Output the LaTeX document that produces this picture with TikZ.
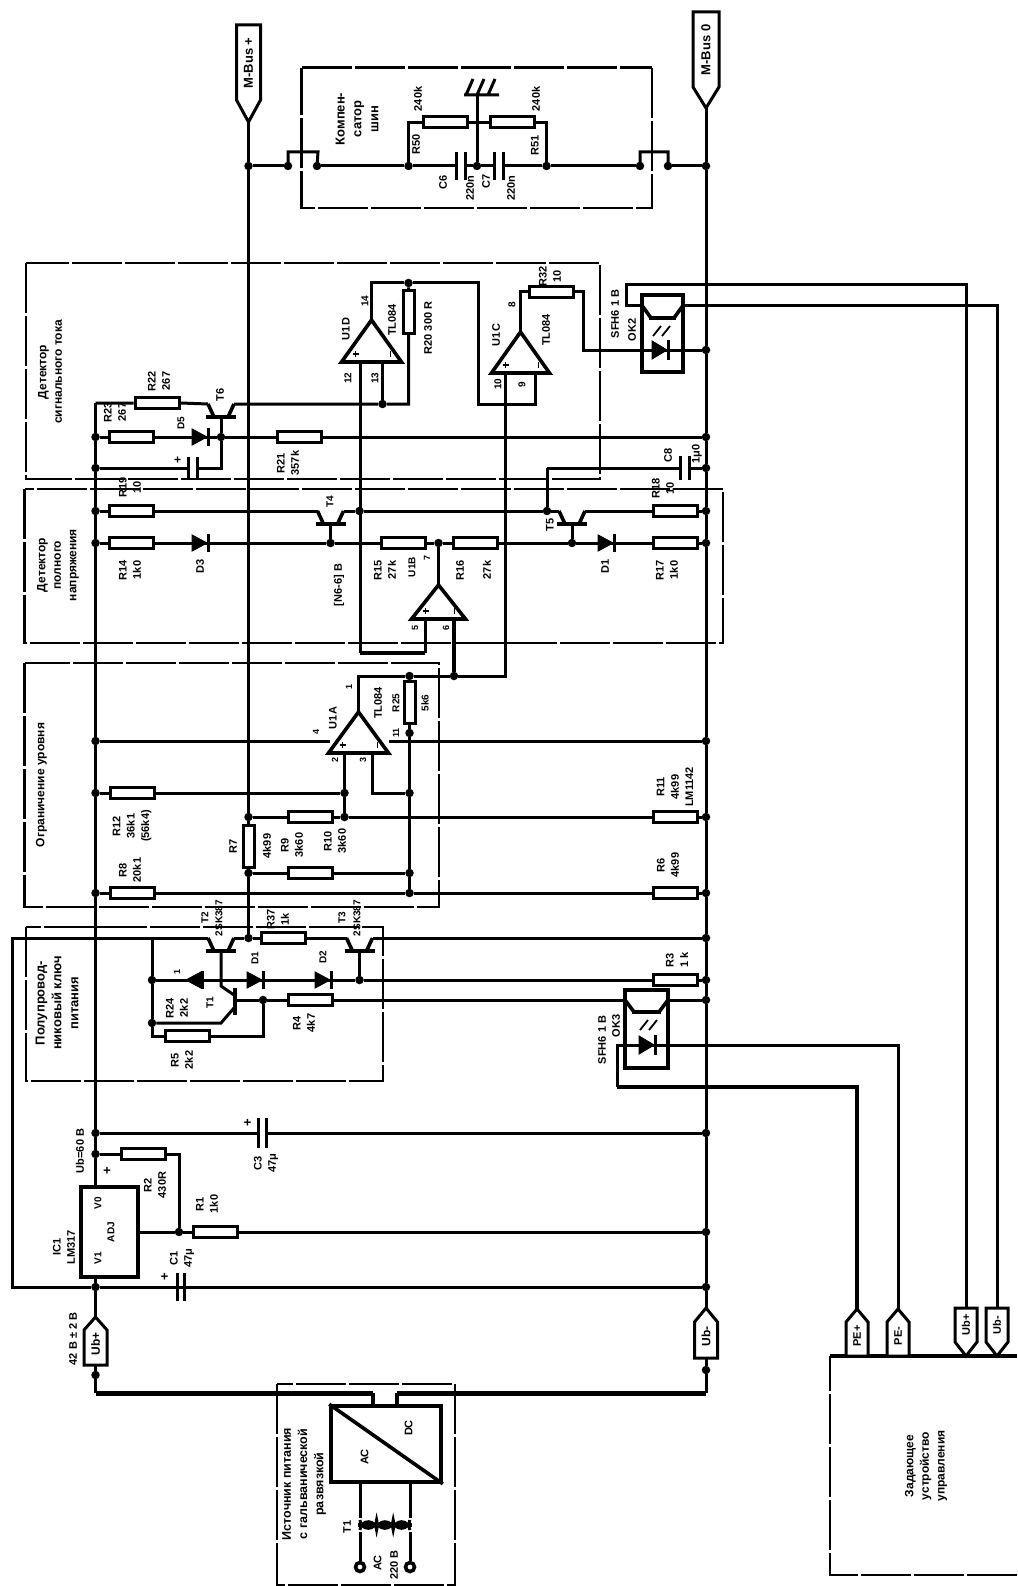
\documentclass[tikz,border=0pt]{standalone}
\usepackage{fontspec}
\setmainfont{Liberation Sans}
\usetikzlibrary{calc}
\tikzset{
  wire/.style={line width=3pt,line join=miter,line cap=butt},
  hvy/.style={line width=3.6pt,line join=miter},
  pwr/.style={line width=5pt,line join=miter},
  frame/.style={line width=2.4pt,dash pattern=on 50pt off 3pt},
  dot/.style={circle,fill=black,inner sep=0pt,minimum size=8.5pt},
  ring/.style={circle,draw=black,fill=white,line width=3.6pt,inner sep=0pt,minimum size=9pt},
  resh/.style={rectangle,draw=black,fill=white,line width=3pt,inner sep=0pt,minimum width=44pt,minimum height=11pt},
  resv/.style={rectangle,draw=black,fill=white,line width=3pt,inner sep=0pt,minimum width=11pt,minimum height=42pt},
  block/.style={rectangle,draw=black,fill=white,line width=3.6pt,inner sep=0pt},
  lbl/.style={rotate=90,inner sep=0pt,align=center,text=black},
  tagshape/.style={draw=black,fill=white,line width=3pt,line join=miter},
  plate/.style={line width=3pt},
  semi/.style={fill=black,draw=black,line width=1pt},
  bar/.style={line width=4.4pt},
}
\newcommand\J[3]{\node[dot] (#1) at (#2,#3) {};}
\newcommand\Rh[3]{\node[resh] (#1) at (#2,#3) {};}
\newcommand\Rv[3]{\node[resv] (#1) at (#2,#3) {};}
\newcommand\Lb[5]{\node[lbl,font=\fontsize{#4}{\dimexpr#4pt*13/10\relax}\selectfont\bfseries] (#1) at (#2,#3) {#5};}
% capacitor on a horizontal wire: name, left plate x, right plate x, y, half length
\newcommand\Cp[5]{\coordinate (#1-l) at (#2,#4);\coordinate (#1-r) at (#3,#4);
  \draw[plate] (#2,#4-#5)--(#2,#4+#5);\draw[plate] (#3,#4-#5)--(#3,#4+#5);}
% diode: name, x, y ; R points right, L points left
\newcommand\DR[3]{\coordinate (#1) at (#2,#3);\fill[semi] (#2-8,#3-8)--(#2+7,#3)--(#2-8,#3+8)--cycle;\draw[plate] (#2+8,#3-9)--(#2+8,#3+9);}
\newcommand\DL[3]{\coordinate (#1) at (#2,#3);\fill[semi] (#2+8,#3-8)--(#2-7,#3)--(#2+8,#3+8)--cycle;\draw[plate] (#2+9,#3-9)--(#2+9,#3+9);}
% transistor: name, base x, bar y
\newcommand\Tr[3]{\coordinate (#1-l) at (#2-13,#3-13);\coordinate (#1-r) at (#2+13,#3-13);\coordinate (#1-b) at (#2,#3);
  \draw[bar] (#2-15,#3)--(#2+15,#3);\draw[hvy] (#2-7,#3)--(#1-l);\draw[hvy] (#2+7,#3)--(#1-r);}
% op amp: name, apex x, apex y, base y, half width
\newcommand\Op[5]{\coordinate (#1-a) at (#2,#3);
  \draw[hvy,fill=white] (#2-#5,#4)--(#2,#3)--(#2+#5,#4)--cycle;
  \draw[line width=1.6pt] (#2-#5+11,#4-8)--(#2-#5+17,#4-8) (#2-#5+14,#4-11)--(#2-#5+14,#4-5) (#2+#5-11,#4-11)--(#2+#5-11,#4-5);}
% tags: name, x, flat end y, shoulder y, tip y, half width
\newcommand\Tag[6]{\coordinate (#1-tip) at (#2,#5);\coordinate (#1-end) at (#2,#3);
  \draw[tagshape] (#2-#6,#3)--(#2+#6,#3)--(#2+#6,#4)--(#2,#5)--(#2-#6,#4)--cycle;}
% optocoupler: left, right, top, bottom, wire y, bar y, led y, led x
\newcommand\Opto[8]{\draw[hvy] (#1,#3) rectangle (#2,#4);
  \draw[bar] (#1+7,#6)--(#2-7,#6);\draw[hvy] (#1,#5)--(#1+9,#6);\draw[hvy] (#2,#5)--(#2-9,#6);
  \draw[line width=1.8pt] (#8-7,#6+18)--(#8+1,#6+8) (#8+2,#6+18)--(#8+10,#6+8);
  \fill[semi] (#8-8,#7-9)--(#8+7,#7)--(#8-8,#7+9)--cycle;\draw[plate] (#8+8,#7-10)--(#8+8,#7+10);}
\begin{document}
\begin{tikzpicture}[x=1pt,y=-1pt]
\useasboundingbox (0,0) rectangle (1017,1586);
\fill[white] (0,0) rectangle (1017,1586);

% group frames
\draw[frame,line width=3pt] (301.5,68) -- (652,68);
\draw[frame] (652,68) -- (652,208) -- (301.5,208) -- (301.5,68);
\draw[frame] (26,263) rectangle (600,479);
\draw[frame] (24.5,489) rectangle (723,643);
\draw[frame] (24.5,663) rectangle (439,907);
\draw[frame] (26,927) rectangle (383,1081);
\draw[frame] (277,1384) rectangle (455,1585);
\draw[frame] (1017,1575) -- (830,1575) -- (830,1356);
\draw[line width=3.6pt] (830,1356) -- (1017,1356);

% rail junctions, left
\coordinate (LT) at (95.5,403);
\J{LA}{95.5}{437}\J{LB}{95.5}{468}\J{LC}{95.5}{511}\J{LD}{95.5}{543}\J{LE}{95.5}{741}\J{LF}{95.5}{793}\J{LG}{95.5}{893}\J{LH}{95.5}{1133}\J{LI}{95.5}{1154}\J{LJ}{95.5}{1287}
% rail junctions, right
\J{RA}{706}{166}\J{RB}{706}{350}\J{RC}{706}{437}\J{RD}{706}{468}\J{RE}{706}{511}\J{RF}{706}{543}\J{RG}{706}{741}\J{RH}{706}{817}\J{RI}{706}{893}\J{RJ}{706}{938}\J{RK}{706}{980}\J{RL}{706}{1000}\J{RM}{706}{1133}\J{RN}{706}{1232}\J{RO}{706}{1287}
% bus + junctions
\J{M1}{248.5}{166}\J{M2}{248.5}{817}\J{M3}{248.5}{873}\J{M4}{248.5}{938}

% tags
\Tag{TMp}{248.5}{25}{100}{122}{12}
\Tag{TMm}{706}{12}{87}{108}{13}
\Tag{TUp}{95.5}{1365}{1330}{1317}{11.5}
\Tag{TUm}{706}{1358}{1322}{1308}{11.5}
\Tag{TPp}{857}{1356}{1322}{1309}{11}
\Tag{TPm}{898}{1356}{1322}{1309}{11}
\Tag{TBp}{966}{1308}{1342}{1356}{11}
\Tag{TBm}{997}{1308}{1342}{1356}{11}

% rails
\draw[wire] (LT)--(LA)--(LB)--(LC)--(LD)--(LE)--(LF)--(LG)--(LH)--(LI);
\draw[wire] (TMm-tip)--(RA)--(RB)--(RC)--(RD)--(RE)--(RF)--(RG)--(RH)--(RI)--(RJ)--(RK)--(RL)--(RM)--(RN)--(RO)--(TUm-tip);
\draw[wire] (TMp-tip)--(M1)--(M2) (M3)--(M4);

% compensator
\J{q1a}{288}{166}\J{q1b}{317}{166}\J{q2a}{640}{166}\J{q2b}{668}{166}
\J{c1}{408.5}{166}\J{c2}{546.5}{166}\J{c0}{477}{166}
\coordinate (g0) at (477,95);
\Rh{R50}{445}{122.5}\Rh{R51}{512}{122.5}
\Cp{C6}{456}{465.5}{166}{14}\Cp{C7}{494}{503}{166}{14}
\draw[wire] (M1)--(q1a) (q1b)--(c1)--(C6-l) (C6-r)--(c0)--(C7-l) (C7-r)--(c2)--(q2a) (q2b)--(RA);
\draw[wire] (q1a.center)--(288,152)--(318,152)--(q1b.center) (q2a.center)--(640,152)--(668,152)--(q2b.center);
\draw[wire] (c1.center)|-(R50.west) (R50.east)--(R51.west) (R51.east)-|(c2.center);
\draw[wire] (g0)--(c0);
\draw[wire] (464,95)--(499,95) (466,95)--(473,79) (477,95)--(484,79) (488,95)--(495,79);

% current detector
\Tr{T6}{221}{417}
\J{n1}{382.5}{404}\J{n3}{408.5}{283}\J{n6}{221}{437}
\coordinate (c20) at (408.5,404);
\Rh{R22}{157}{403}\Rh{R23}{131.5}{437}\Rh{R21}{299.5}{437}\Rv{R20}{408.5}{312}
\DR{D4}{200}{437}
\Cp{C5}{188}{197}{468}{11}
\draw[wire] (LT)--(R22.west) (R22.east)--(T6-l) (T6-r)--(n1)--(c20)--(R20)--(n3);
\draw[wire] (LA)--(R23)--(n6)--(R21)--(RC);
\draw[wire] (T6-b)--(n6)--(221,468)--(C5-r) (LB)--(C5-l);
\Op{U1D}{371.5}{320}{362}{30}
\Op{U1C}{520.5}{332}{373}{29}
\coordinate (w1) at (478.5,283);\coordinate (w2) at (478.5,404);\coordinate (w3) at (535,404);\coordinate (w4) at (535,373);
\draw[wire] (U1D-a)|-(n3)--(w1)--(w2)--(w3)--(w4);
\draw[wire] (382.5,362)--(n1);
\Rh{R32}{551}{292}
\coordinate (w5) at (583.5,292);\coordinate (w6) at (583.5,350);
\draw[wire] (U1C-a)|-(R32.west) (R32.east)--(w5)--(w6)--(RB);
\Opto{642}{683}{295}{372}{305.5}{318}{350}{660}
\coordinate (x1) at (626,285);\coordinate (x2) at (626,305.5);\coordinate (x3) at (642,305.5);\coordinate (x4) at (683,305.5);
\coordinate (x5) at (966,285);\coordinate (x6) at (997,305.5);
\draw[wire] (TBp-end)--(x5)--(x1)--(x2)--(x3) (x4)--(x6)--(TBm-end);
\coordinate (n7) at (547,468);
\Cp{C8}{680}{689}{468}{12}
\draw[wire] (n7)--(C8-l) (C8-r)--(RD);

% full voltage detector
\Tr{T4}{330.5}{524}\Tr{T5}{572}{524}
\J{n8}{547}{511}\J{n9}{359.5}{511}\J{n10}{330.5}{543}\J{n11}{438.5}{543}\J{n12}{572}{543}
\Rh{R19}{131.5}{511}\Rh{R18}{675}{511}\Rh{R14}{131.5}{543}\Rh{R15}{403.5}{543}\Rh{R16}{475}{543}\Rh{R17}{675}{543}
\DR{D3}{200}{543}\DR{D1}{606}{543}
\draw[wire] (n7)--(n8);
\draw[wire] (LC)--(R19)--(T4-l) (T4-r)--(n9)--(n8)--(T5-l) (T5-r)--(R18)--(RE);
\draw[wire] (LD)--(R14)--(n10)--(R15)--(n11)--(R16)--(n12)--(R17)--(RF);
\draw[wire] (T4-b)--(n10) (T5-b)--(n12);
\Op{U1B}{438.5}{585}{619}{27}
\draw[wire] (U1B-a)--(n11);
\coordinate (y1) at (360,362);\coordinate (y2) at (360,653);\coordinate (y3) at (425,653);\coordinate (y4) at (425,619);
\draw[wire] (y1)--(y2);\draw[hvy] (y2)--(y3);\draw[wire] (y3)--(y4);

% level limiter
\Op{U1A}{358.5}{712}{753}{30}
\J{n4}{454}{676}\J{n5}{409.5}{676}\J{n13}{409.5}{733}\J{n14}{409.5}{793}\J{n15}{409.5}{873}\J{n16}{409.5}{893}\J{n17}{344.5}{793}\J{n18}{344.5}{817}
\Rv{R25}{409.5}{702}\Rh{R12}{132}{793}\Rh{R10}{310.5}{817}\Rh{R11}{675}{817}\Rh{R9}{310.5}{873}\Rh{R8}{132}{893}\Rh{R6}{675}{893}\Rv{R7}{248.5}{846}
\coordinate (z1) at (505,676);\coordinate (z2) at (505,373);\coordinate (z3) at (454,619);\coordinate (z4) at (358.5,676);
\draw[hvy] (z3)--(n4);
\draw[wire] (U1A-a)--(z4)--(n5)--(n4)--(z1)--(z2);
\draw[wire] (n5)--(R25)--(n13)--(n14)--(n15)--(n16);
\draw[wire] (LE)--(330,741) (389,741)--(RG);
\draw[wire] (344.5,753)--(n17)--(n18);
\draw[wire] (372.5,753)|-(n14);
\draw[wire] (LF)--(R12)--(n17);
\draw[wire] (M2)--(R10)--(n18)--(R11)--(RH);
\draw[wire] (M3)--(R9)--(n15);
\draw[wire] (M2)--(R7)--(M3);
\draw[wire] (LG)--(R8)--(n16)--(R6)--(RI);

% semiconductor switch
\Tr{T2}{221}{951}\Tr{T3}{359.5}{951}
\coordinate (o1) at (12,1287);\coordinate (o2) at (12,938);\coordinate (k1) at (152,938);\coordinate (k2) at (152,1036);\coordinate (k3) at (263,1036);
\J{n20}{152}{980}\J{n21}{152}{1023}\J{n22}{263}{1000}\J{n23}{359.5}{980}
\Rh{R37}{283.5}{938}\Rh{R5}{187.5}{1036}\Rh{R3}{675}{980}\Rh{R4}{310.5}{1000}
\DL{D6}{193}{980}\DR{D7}{255}{980}\DR{D2}{323}{980}
\draw[wire] (RO)--(LJ)--(o1)--(o2)--(T2-l) (T2-r)--(M4)--(R37)--(T3-l) (T3-r)--(RJ);
\draw[wire] (k1)--(n20)--(n21)--(k2)--(R5)--(k3)--(n22);
\draw[wire] (n20)--(n23)--(R3)--(RK);
\draw[wire] (T3-b)--(n23);
\draw[wire] (T2-b)--(221,986)--(234,995) (234,1008)--(221,1023)--(n21);
\draw[bar] (235,988)--(235,1015);
\draw[wire] (235,1000)--(n22)--(R4)--(627,1000) (668,1000)--(RL);
\Opto{625}{668}{990}{1068}{1000}{1012}{1045}{647}
\coordinate (v1) at (617,1045);\coordinate (v2) at (617,1087);\coordinate (v3) at (857,1087);\coordinate (v4) at (898,1045);
\draw[wire] (TPm-tip)--(v4)--(v1)--(v2);\draw[hvy] (v2)--(v3)--(TPp-tip);

% regulator and supply
\Cp{C3}{258}{266.5}{1133}{15}
\draw[wire] (LH)--(C3-l) (C3-r)--(RM);
\node[block,minimum width=57pt,minimum height=90pt] (IC) at (109.5,1232) {};
\J{n24}{179}{1232}
\Rh{R2}{143.5}{1154}\Rh{R1}{215}{1232}
\coordinate (m1) at (179,1154);\coordinate (m2) at (95.5,1187);\coordinate (m3) at (95.5,1277);
\draw[wire] (LI)--(m2) (m3)--(LJ);
\draw[wire] (LI)--(R2)--(m1)--(n24);
\draw[wire] (IC.east)--(n24)--(R1)--(RN);
\Cp{C1}{177}{184.5}{1287}{14}
\draw[wire] (LJ)--(TUp-tip);
\J{e1}{95.5}{1375}\J{e2}{706}{1370}
\coordinate (p1) at (95.5,1393);\coordinate (p2) at (373,1393);\coordinate (p3) at (373,1406);
\coordinate (p4) at (706,1393);\coordinate (p5) at (397,1393);\coordinate (p6) at (397,1406);
\draw[wire] (TUp-end)--(e1)--(p1);
\draw[wire] (TUm-end)--(e2)--(p4);
\draw[pwr] (p1)--(p2);\draw[pwr] (p4)--(p5);
\draw[hvy] (p2)--(p3) (p5)--(p6);
\node[block,minimum width=110pt,minimum height=76pt] (PS) at (386,1444) {};
\draw[hvy] (PS.north west)--(PS.south east);
\coordinate (t1) at (360,1482);\coordinate (t2) at (410,1482);\coordinate (t3) at (360,1567);\coordinate (t4) at (410,1567);
\node[ring] (t5) at (t3) {};\node[ring] (t6) at (t4) {};
\draw[wire] (t1)--(360,1518) (t2)--(410,1518) (360,1532)--(t5) (410,1532)--(t6);
\draw[wire] (360,1520) arc[start angle=180,end angle=0,radius=8.3] arc[start angle=180,end angle=0,radius=8.3] arc[start angle=180,end angle=0,radius=8.3];
\draw[wire] (360,1530) arc[start angle=180,end angle=360,radius=8.3] arc[start angle=180,end angle=360,radius=8.3] arc[start angle=180,end angle=360,radius=8.3];
\draw[hvy] (358,1525)--(412,1525);

% labels : compensator
\Lb{a1}{357}{119}{13}{Компен-\\сатор\\шин}
\Lb{a2}{416}{144}{11}{R50}
\Lb{a2b}{418}{99}{11}{240k}
\Lb{a3}{535}{145}{11}{R51}
\Lb{a3b}{536}{99}{11}{240k}
\Lb{a4}{443}{182}{11}{C6}
\Lb{a5}{470}{188}{11}{220n}
\Lb{a6}{486}{181}{11}{C7}
\Lb{a7}{511}{188}{11}{220n}
% current detector
\Lb{b1}{50}{372}{12}{Детектор\\сигнального тока}
\Lb{b2}{159}{381}{11}{R22\\267}
\Lb{b3}{115}{412}{11}{R23\\267}
\Lb{b4}{181}{423}{10}{D5}
\Lb{b5}{220}{395}{11}{T6}
\Lb{b6}{288}{463}{11}{R21\\357k}
\Lb{b7}{178}{460}{12}{+}
\Lb{b8}{346}{329}{11}{U1D}
\Lb{b9}{392}{320}{11}{TL084}
\Lb{b10}{365}{301}{10}{14}
\Lb{b11}{428}{328}{11}{R20 300 R}
\Lb{b12}{348}{378}{10}{12}
\Lb{b13}{375}{378}{10}{13}
\Lb{b14}{496}{335}{11}{U1C}
\Lb{b15}{546}{330}{11}{TL084}
\Lb{b16}{512}{305}{10}{8}
\Lb{b17}{498}{384}{10}{10}
\Lb{b18}{522}{385}{10}{9}
\Lb{b19}{550}{276}{11}{R32\\10}
\Lb{b20}{615}{314}{11}{SFH6 1 B}
\Lb{b20b}{632}{330}{11}{OK2}
\Lb{b21}{668}{455}{11}{C8}
\Lb{b22}{697}{454}{11}{1μ0}
% full voltage detector
\Lb{c3}{58}{565}{12}{Детектор\\полного\\напряжения}
\Lb{c4}{130}{487}{11}{R19\\10}
\Lb{c5}{663}{488}{11}{R18\\10}
\Lb{c6}{130}{570}{11}{R14\\1k0}
\Lb{c7}{200}{566}{11}{D3}
\Lb{c8}{330}{502}{10}{T4}
\Lb{c9}{339}{585}{11}{[N6-6] B}
\Lb{c10}{550}{525}{11}{T5}
\Lb{c11}{385}{570}{11}{R15\\27k}
\Lb{c12}{460}{570}{11}{R16}
\Lb{c12b}{487}{570}{11}{27k}
\Lb{c13}{427}{558}{9}{7}
\Lb{c14}{412}{567}{10}{U1B}
\Lb{c16}{605}{566}{11}{D1}
\Lb{c17}{667}{570}{11}{R17\\1k0}
\Lb{c18}{415}{628}{9}{5}
\Lb{c19}{446}{628}{9}{6}
% limiter
\Lb{d1}{41.5}{785}{12}{Ограничение уровня}
\Lb{d2}{349}{687}{9}{1}
\Lb{d3}{333}{718}{11}{U1A}
\Lb{d4}{316}{732}{9}{4}
\Lb{d5}{378}{703}{11}{TL084}
\Lb{d6}{396}{703}{10}{R25}
\Lb{d7}{425}{703}{10}{5k6}
\Lb{d8}{396}{733}{9}{11}
\Lb{d9}{335}{760}{9}{2}
\Lb{d10}{363}{760}{9}{3}
\Lb{d11}{132}{826}{11}{R12\\36k1\\(56k4)}
\Lb{d12}{130}{870}{11}{R8\\20k1}
\Lb{d13}{233}{846}{11}{R7}
\Lb{d14}{267}{846}{11}{4k99}
\Lb{d15}{292}{845}{11}{R9\\3k60}
\Lb{d16}{335}{841}{11}{R10\\3k60}
\Lb{d17}{675}{787}{11}{R11\\4k99\\LM1142}
\Lb{d18}{668}{865}{11}{R6\\4k99}
% switch
\Lb{e3}{57}{1003}{13}{Полупровод-\\никовый ключ\\питания}
\Lb{e4}{205}{918}{10}{T2}
\Lb{e5}{219}{918}{10}{2SK387}
\Lb{e6}{342}{918}{10}{T3}
\Lb{e7}{357}{918}{10}{2SK387}
\Lb{e8}{278}{919}{11}{R37\\1k}
\Lb{e9}{255}{958}{10}{D1}
\Lb{e10}{323}{957}{10}{D2}
\Lb{e11}{177}{972}{9}{1}
\Lb{e12}{177}{1008}{11}{R24\\2k2}
\Lb{e13}{210}{1003}{10}{T1}
\Lb{e14}{304}{1023}{11}{R4\\4k7}
\Lb{e15}{182}{1060}{11}{R5\\2k2}
\Lb{e16}{677}{960}{11}{R3\\1 k}
\Lb{e17}{602}{1040}{11}{SFH6 1 B}
\Lb{e17b}{616}{1026}{11}{OK3}
% supply
\Lb{f1}{266}{1163}{11}{C3\\47μ}
\Lb{f2}{80}{1151}{11}{Ub=60 B}
\Lb{f3}{155}{1185}{11}{R2\\430R}
\Lb{f4}{107.5}{1171}{13}{+}
\Lb{f5}{98}{1203}{10}{V0}
\Lb{f6}{111}{1232}{10}{ADJ}
\Lb{f7}{98}{1258}{10}{V1}
\Lb{f8}{64}{1247}{11}{IC1\\LM317}
\Lb{f9}{207}{1204}{11}{R1\\1k0}
\Lb{f10}{182}{1258}{11}{C1\\47μ}
\Lb{f11}{165}{1277}{13}{+}
\Lb{f12}{73}{1339}{11}{42 B ± 2 B}
\Lb{f13}{248}{1123}{13}{+}
\Lb{f14}{304}{1484}{12.5}{Источник питания\\с гальванической\\развязкой}
\Lb{f15}{408.5}{1428}{11}{DC}
\Lb{f16}{364.5}{1457}{11}{AC}
\Lb{f17}{347}{1527}{11}{T1}
\Lb{f18}{377.5}{1563}{11}{AC}
\Lb{f19}{394}{1565}{11}{220 B}
\Lb{f20}{926}{1466}{12}{Задающее\\устройство\\управления}
% tag texts
\Lb{g1}{248.5}{63}{13}{M-Bus +}
\Lb{g2}{706}{50}{13}{M-Bus 0}
\Lb{g3}{95.5}{1344}{12}{Ub+}
\Lb{g4}{706}{1336}{12}{Ub-}
\Lb{g5}{857}{1336}{11}{PE+}
\Lb{g6}{898}{1336}{11}{PE-}
\Lb{g7}{966}{1325}{11}{Ub+}
\Lb{g8}{997}{1325}{11}{Ub-}
\end{tikzpicture}
\end{document}
